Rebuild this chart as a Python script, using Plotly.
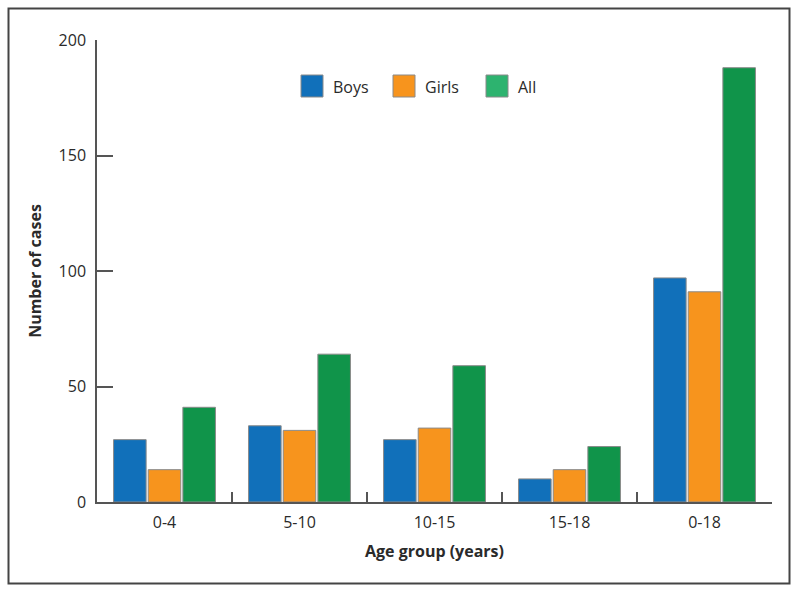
import plotly.graph_objects as go

categories = ["0-4", "5-10", "10-15", "15-18", "0-18"]
boys = [27, 33, 27, 10, 97]
girls = [14, 31, 32, 14, 91]
all_cases = [41, 64, 59, 24, 188]
series_names = ["Boys", "Girls", "All"]
bar_colors = ["#1170BA", "#F7941D", "#10944A"]
legend_colors = ["#1170BA", "#F7941D", "#2DB36F"]
y_ticks = [0, 50, 100, 150, 200]

W, H = 799, 593
ML, MR, MT, MB = 97, 27, 40, 91
PW, PH = W - ML - MR, H - MT - MB

def px_x(px):
    return (px - ML) / PW

def px_y(py):
    return (H - MB - py) / PH

FONT = "'Open Sans', sans-serif"
TXT = "#2a2a2a"

fig = go.Figure()
for name, vals, col in zip(series_names, [boys, girls, all_cases], bar_colors):
    fig.add_trace(go.Bar(
        x=categories, y=vals, name=name, showlegend=False,
        marker=dict(color=col, line=dict(color="#8a8a8a", width=1)),
    ))

shapes = [
    dict(type="rect", xref="paper", yref="paper",
         x0=px_x(8.5), x1=px_x(789.5), y0=px_y(583.5), y1=px_y(8.5),
         line=dict(color="#444", width=2), fillcolor="rgba(0,0,0,0)", layer="below"),
]
annotations = []
leg_x = [301, 393, 486]
for name, col, x0 in zip(series_names, legend_colors, leg_x):
    shapes.append(dict(type="rect", xref="paper", yref="paper",
                       x0=px_x(x0), x1=px_x(x0 + 22), y0=px_y(97), y1=px_y(75),
                       fillcolor=col, line=dict(color="#8a8a8a", width=1)))
    annotations.append(dict(xref="paper", yref="paper", x=px_x(x0 + 30), y=px_y(86.5),
                            text=name, showarrow=False, xanchor="left", yanchor="middle",
                            font=dict(family=FONT, size=16, color=TXT)))

fig.update_layout(
    width=W, height=H,
    margin=dict(l=ML, r=MR, t=MT, b=MB),
    paper_bgcolor="white", plot_bgcolor="white",
    barmode="group", bargap=0.23, bargroupgap=0.06,
    font=dict(family=FONT, size=16, color=TXT),
    shapes=shapes, annotations=annotations,
    xaxis=dict(
        type="category", range=[-0.5, 4.5],
        showline=True, linecolor="#555", linewidth=1.5,
        ticks="inside", tickson="boundaries", ticklen=10, tickwidth=1.5, tickcolor="#555",
        showgrid=False, zeroline=False, ticklabelstandoff=5,
        tickfont=dict(family=FONT, size=16, color=TXT),
        title=dict(text="<b>Age group (years)</b>", standoff=14,
                   font=dict(family=FONT, size=16, color=TXT)),
    ),
    yaxis=dict(
        range=[0, 200], tickvals=y_ticks,
        showline=True, linecolor="#555", linewidth=1.5,
        ticks="inside", ticklen=16, tickwidth=1.5, tickcolor="#555",
        showgrid=False, zeroline=False, ticklabelstandoff=6,
        tickfont=dict(family=FONT, size=16, color=TXT),
        title=dict(text="<b>Number of cases</b>", standoff=13,
                   font=dict(family=FONT, size=16, color=TXT)),
    ),
)

fig.write_html("out.html", config={"displayModeBar": False},
               post_script="document.body.style.margin='0';document.body.style.padding='0';")
